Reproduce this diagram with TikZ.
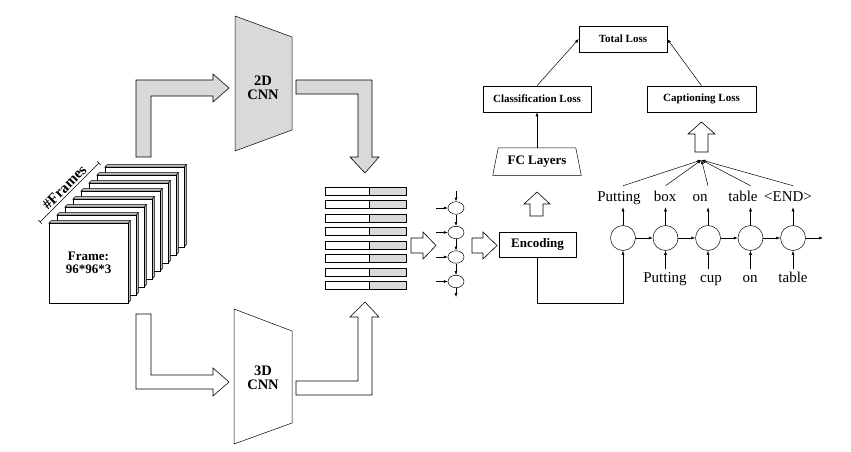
\documentclass[tikz,border=0pt]{standalone}
\usepackage{fontspec}
\setmainfont{Liberation Serif}
\usetikzlibrary{shapes.geometric,arrows.meta,positioning}

\definecolor{cnngray}{RGB}{217,217,217}
\definecolor{sidegray}{RGB}{190,190,190}

\tikzset{
  bold/.style={font=\fontsize{#1}{#1}\selectfont\bfseries, align=center},
  lossbox/.style={draw, minimum height=26pt, inner sep=0pt, bold=11},
  word/.style={font=\fontsize{15}{17}\selectfont, text height=10.5pt, text depth=3.5pt, inner sep=2pt},
  cell/.style={draw, circle, minimum size=25pt, inner sep=0pt},
  lstm/.style={draw, ellipse, minimum width=16pt, minimum height=12.5pt, inner sep=0pt},
  blk/.style={draw, line width=0.6pt, line join=miter},
  >={Latex[length=4pt,width=3pt]}
}

\begin{document}
\begin{tikzpicture}[x=1pt, y=-1pt, line width=0.5pt]
\useasboundingbox (0,0) rectangle (851,452);

% stack of frames
\foreach \i in {7,6,...,0} {
  \pgfmathsetmacro{\dx}{8*\i}
  \begin{scope}[shift={(\dx,-\dx)}]
    \draw[fill=sidegray] (49,223) -- (51.5,220.5) -- (130.5,220.5) -- (130.5,300.5) -- (128,303) -- (128,223) -- cycle;
    \draw (128,223) -- (130.5,220.5);
    \draw[fill=white] (49,223) rectangle (128,303);
  \end{scope}
}
\node[bold=13] (frame) at (88.5,263) {Frame:\\96*96*3};

\coordinate (nf1) at (40,222);
\coordinate (nf2) at (99,163);
\draw[{Bar[width=5pt]}-{Bar[width=5pt]}] (nf1) -- (nf2)
  node[midway, sloped, above, bold=15, inner sep=2pt] (nframes) {\#Frames};

% 2D and 3D CNN
\draw[fill=cnngray] (235,16) -- (292,37) -- (292,130) -- (235,151) -- cycle;
\node[bold=14.5] (cnn2d) at (263,88) {2D\\CNN};
\draw (234,309) -- (292,331) -- (292,423) -- (234,444) -- cycle;
\node[bold=14.5] (cnn3d) at (263,378) {3D\\CNN};

% block arrows around the CNNs
\draw[blk, fill=cnngray] (136,157) -- (136,80) -- (213,80) -- (213,74) -- (229,88) -- (213,102)
  -- (213,96) -- (151,96) -- (151,157) -- cycle;
\draw[blk, fill=cnngray] (296,80) -- (372,80) -- (372,157) -- (379,157) -- (365,173) -- (350,157)
  -- (358,157) -- (358,94) -- (296,94) -- cycle;
\draw[blk] (136,314) -- (151,314) -- (151,375) -- (213,375) -- (213,368) -- (229,382) -- (213,396)
  -- (213,389) -- (136,389) -- cycle;
\draw[blk] (296,381) -- (358,381) -- (358,317) -- (350,317) -- (365,302) -- (379,317)
  -- (372,317) -- (372,395) -- (296,395) -- cycle;

% features
\foreach \i in {0,...,7} {
  \pgfmathsetmacro{\yy}{187+13.5*\i}
  \draw[fill=white] (325,\yy) rectangle (369,\yy+8);
  \draw[fill=cnngray] (369,\yy) rectangle (406,\yy+8);
}

\draw[blk] (411,238) -- (423,238) -- (423,232) -- (436,245.5) -- (423,259) -- (423,253) -- (411,253) -- cycle;

% recurrent column
\foreach \i in {1,...,4} {
  \node[lstm] (e\i) at (456,183.5+24.5*\i) {};
  \coordinate (ein\i) at (436,183.5+24.5*\i);
  \draw[->] (ein\i) -- (e\i.west);
}
\coordinate (etop) at (456,191);
\coordinate (ebot) at (456,297);
\draw[->] (etop) -- (e1.north);
\draw[->] (e1) -- (e2);
\draw[->] (e2) -- (e3);
\draw[->] (e3) -- (e4);
\draw[->] (e4.south) -- (ebot);

\draw[blk] (472,238) -- (483,238) -- (483,232) -- (497,245.5) -- (483,259) -- (483,253) -- (472,253) -- cycle;

% encoding and losses
\node[draw, minimum width=77pt, minimum height=25pt, bold=13] (enc) at (537.5,244.5) {Encoding};
\node[minimum width=77pt, minimum height=27pt, bold=13] (fc) at (537,161.5) {FC Layers};
\draw (fc.north west) -- (fc.north east) -- ([xshift=5.5pt]fc.south east) -- ([xshift=-5.5pt]fc.south west) -- cycle;
\draw[blk] (530,216) -- (530,204) -- (524,204) -- (537,192) -- (550,204) -- (543,204) -- (543,216) -- cycle;

\node[lossbox, minimum width=88pt] (total) at (623,39) {Total Loss};
\node[lossbox, minimum width=108pt] (cls) at (537,99) {Classification Loss};
\node[lossbox, minimum width=109pt] (cap) at (701.5,99) {Captioning Loss};
\draw[->] (fc.north) -- (cls.south);
\draw[->] (cls.north) -- (total.west);
\draw[->] (cap.north) -- (total.east);
\draw[blk] (695,152) -- (695,134) -- (688,134) -- (701.5,122) -- (715,134) -- (708,134) -- (708,152) -- cycle;

% captioning decoder
\foreach \i/\w/\tx in {1/Putting/619, 2/box/665, 3/on/700, 4/table/743, 5/<END>/788} {
  \node[cell] (c\i) at (623+42.5*\i-42.5,238) {};
  \node[word] (t\i) at (\tx,198) {\w};
  \draw[->] (c\i.north) -- (c\i.north |- t\i.south);
}
\foreach \i/\w/\tx in {2/Putting/665, 3/cup/711, 4/on/750, 5/table/793} {
  \node[word] (b\i) at (\tx,278.5) {\w};
  \draw[->] (c\i.south |- b\i.north) -- (c\i.south);
}
\coordinate (fan) at (701.5,160);
\foreach \i in {1,...,5} {
  \draw[->] ([yshift=3pt]c\i.north |- t\i.north) -- (fan);
}
\foreach \i/\j in {1/2, 2/3, 3/4, 4/5} {
  \draw[->] (c\i) -- (c\j);
}
\coordinate (cend) at (823,238);
\draw[->] (c5) -- (cend);
\draw[->] (enc.south) -- ++(0,46) -| (c1.south);

\end{tikzpicture}
\end{document}
